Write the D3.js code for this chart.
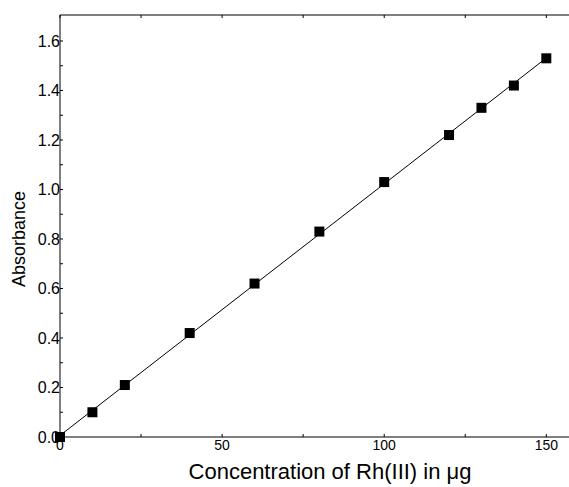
<!DOCTYPE html>
<html>
<head>
<meta charset="utf-8">
<script src="https://cdn.jsdelivr.net/npm/d3@7"></script>
<style>
  body { margin: 0; background: #fff; }
  svg { display: block; font-family: "Liberation Sans", Arial, sans-serif; }
</style>
</head>
<body>
<svg id="chart" width="569" height="487"></svg>
<script>
// data
const concentration = [0, 10, 20, 40, 60, 80, 100, 120, 130, 140, 150];
const absorbance = [0.0, 0.10, 0.21, 0.42, 0.62, 0.83, 1.03, 1.22, 1.33, 1.42, 1.53];
const xTickLabels = [0, 50, 100, 150];
const yTickLabels = [0.0, 0.2, 0.4, 0.6, 0.8, 1.0, 1.2, 1.4, 1.6];

const margin = {top: 15, right: 0, bottom: 50, left: 60};
const width = 569 - margin.left - margin.right;
const height = 487 - margin.top - margin.bottom;

const svg = d3.select("#chart");
const g = svg.append("g").attr("transform", `translate(${margin.left},${margin.top})`);

const x = d3.scaleLinear().domain([0, 157]).range([0, width]);
const y = d3.scaleLinear().domain([0, 1.705]).range([height, 0]);

// frame lines
g.append("line").attr("x1", 0).attr("x2", width).attr("y1", 0).attr("y2", 0).attr("stroke", "#000");
g.append("line").attr("x1", 0).attr("x2", width).attr("y1", height).attr("y2", height).attr("stroke", "#000");
g.append("line").attr("x1", 0).attr("x2", 0).attr("y1", 0).attr("y2", height).attr("stroke", "#000");

// bottom axis: ticks every 25 pointing up, labels every 50
const xMinor = d3.range(0, 151, 25);
g.append("g").selectAll("line").data(xMinor).enter().append("line")
  .attr("x1", d => x(d)).attr("x2", d => x(d))
  .attr("y1", height).attr("y2", height - 3).attr("stroke", "#000");
g.append("g").selectAll("line").data(xMinor).enter().append("line")
  .attr("x1", d => x(d)).attr("x2", d => x(d))
  .attr("y1", 0).attr("y2", 3).attr("stroke", "#000");
g.append("g").selectAll("text").data(xTickLabels).enter().append("text")
  .attr("x", d => x(d)).attr("y", height + 13)
  .attr("text-anchor", "middle").attr("font-size", 14)
  .text(d => d);

// left axis: ticks every 0.1 pointing right, labels every 0.2
const yMinor = d3.range(0, 17).map(i => i / 10);
g.append("g").selectAll("line").data(yMinor).enter().append("line")
  .attr("x1", 0).attr("x2", 3)
  .attr("y1", d => y(d)).attr("y2", d => y(d)).attr("stroke", "#000");
g.append("g").selectAll("text").data(yTickLabels).enter().append("text")
  .attr("x", 0).attr("y", d => y(d) + 6)
  .attr("text-anchor", "end").attr("font-size", 16)
  .text(d => d.toFixed(1));

// linear fit line
const n = concentration.length;
const mx = d3.mean(concentration), my = d3.mean(absorbance);
const slope = d3.sum(concentration, (c, i) => (c - mx) * (absorbance[i] - my)) /
              d3.sum(concentration, c => (c - mx) * (c - mx));
const icpt = my - slope * mx;
const xEnds = [concentration[0], concentration[n - 1]];
g.append("path")
  .attr("fill", "none").attr("stroke", "#000").attr("stroke-width", 1)
  .attr("d", d3.line().x(d => x(d)).y(d => y(icpt + slope * d))(xEnds));

// markers
const s = 10;
g.append("g").selectAll("rect").data(concentration).enter().append("rect")
  .attr("x", d => x(d) - s / 2)
  .attr("y", (d, i) => y(absorbance[i]) - s / 2)
  .attr("width", s).attr("height", s).attr("fill", "#000");

// axis titles
svg.append("text")
  .attr("x", 330).attr("y", 479)
  .attr("text-anchor", "middle").attr("font-size", 22)
  .text("Concentration of Rh(III) in μg");
svg.append("text")
  .attr("transform", "translate(25,239) rotate(-90)")
  .attr("text-anchor", "middle").attr("font-size", 18)
  .text("Absorbance");
</script>
</body>
</html>
